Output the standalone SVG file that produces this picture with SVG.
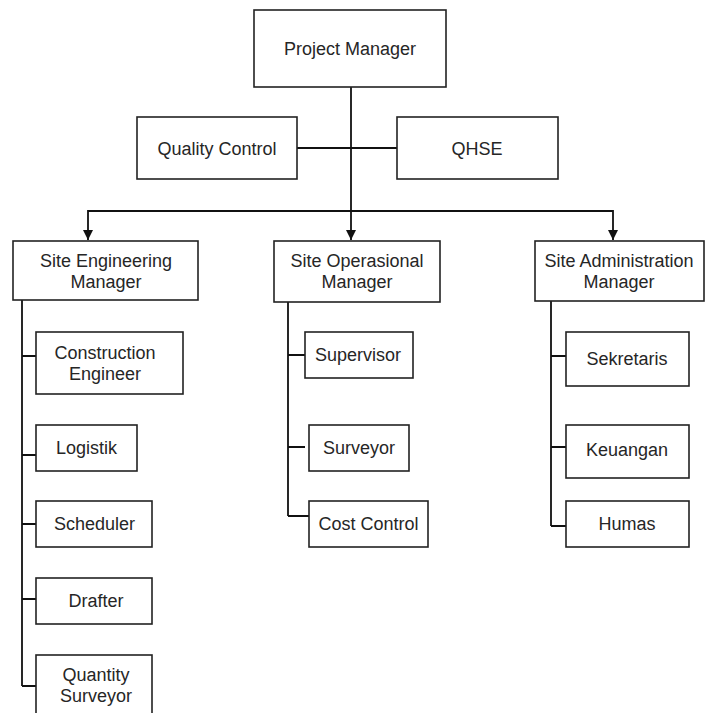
<svg xmlns="http://www.w3.org/2000/svg" width="708" height="713" viewBox="0 0 708 713">
  <defs>
    <marker id="arrow" viewBox="0 0 10 10" refX="10" refY="5" markerWidth="10" markerHeight="10" markerUnits="userSpaceOnUse" orient="auto">
      <path d="M0,0 L10,5 L0,10 Z" fill="#111"/>
    </marker>
    <style>
      .box { fill: #ffffff; stroke: #222; stroke-width: 1.6; }
      .lbl { font-family: "Liberation Sans", Arial, Helvetica, sans-serif; font-size: 18px; fill: #262626; text-anchor: middle; }
      .wire { fill: none; stroke: #111; stroke-width: 1.8; }
    </style>
  </defs>
  <rect width="708" height="713" fill="#ffffff"/>

  <!-- connectors -->
  <g id="connectors">
    <path class="wire" d="M351,87 V240" marker-end="url(#arrow)"/>
    <path class="wire" d="M351,211 H88 V240" marker-end="url(#arrow)"/>
    <path class="wire" d="M351,211 H613 V240" marker-end="url(#arrow)"/>
    <path class="wire" d="M297,148 H397"/>
    <!-- engineering branch -->
    <path class="wire" d="M22,300 V686 M22,356 H36 M22,455 H36 M22,524 H36 M22,599 H36 M22,686 H36"/>
    <!-- operational branch -->
    <path class="wire" d="M288,302 V516 M288,355 H305 M288,447 H305 M288,516 H309"/>
    <!-- administration branch -->
    <path class="wire" d="M551,301 V526 M551,356 H566 M551,447 H566 M551,526 H566"/>
  </g>

  <g id="project-manager">
    <rect class="box" x="254" y="10" width="192" height="77"/>
    <text class="lbl" x="350" y="55">Project Manager</text>
  </g>
  <g id="quality-control">
    <rect class="box" x="137" y="117" width="160" height="62"/>
    <text class="lbl" x="217" y="155">Quality Control</text>
  </g>
  <g id="qhse">
    <rect class="box" x="397" y="117" width="161" height="62"/>
    <text class="lbl" x="477" y="155">QHSE</text>
  </g>

  <g id="site-engineering-manager">
    <rect class="box" x="13" y="241" width="185" height="59"/>
    <text class="lbl" x="106" y="267">Site Engineering</text>
    <text class="lbl" x="106" y="288">Manager</text>
  </g>
  <g id="site-operasional-manager">
    <rect class="box" x="274" y="241" width="166" height="61"/>
    <text class="lbl" x="357" y="267">Site Operasional</text>
    <text class="lbl" x="357" y="288">Manager</text>
  </g>
  <g id="site-administration-manager">
    <rect class="box" x="535" y="241" width="169" height="60"/>
    <text class="lbl" x="619" y="267">Site Administration</text>
    <text class="lbl" x="619" y="288">Manager</text>
  </g>

  <g id="construction-engineer">
    <rect class="box" x="36" y="332" width="147" height="62"/>
    <text class="lbl" x="105" y="359">Construction</text>
    <text class="lbl" x="105" y="380">Engineer</text>
  </g>
  <g id="logistik">
    <rect class="box" x="36" y="425" width="101" height="46"/>
    <text class="lbl" x="86.5" y="454">Logistik</text>
  </g>
  <g id="scheduler">
    <rect class="box" x="36" y="501" width="116" height="46"/>
    <text class="lbl" x="94.5" y="530">Scheduler</text>
  </g>
  <g id="drafter">
    <rect class="box" x="36" y="578" width="116" height="46"/>
    <text class="lbl" x="96" y="607">Drafter</text>
  </g>
  <g id="quantity-surveyor">
    <rect class="box" x="36" y="655" width="116" height="66"/>
    <text class="lbl" x="96" y="681">Quantity</text>
    <text class="lbl" x="96" y="702">Surveyor</text>
  </g>

  <g id="supervisor">
    <rect class="box" x="305" y="332" width="108" height="46"/>
    <text class="lbl" x="358" y="361">Supervisor</text>
  </g>
  <g id="surveyor">
    <rect class="box" x="309" y="425" width="100" height="46"/>
    <text class="lbl" x="359" y="454">Surveyor</text>
  </g>
  <g id="cost-control">
    <rect class="box" x="309" y="501" width="119" height="46"/>
    <text class="lbl" x="368.5" y="530">Cost Control</text>
  </g>

  <g id="sekretaris">
    <rect class="box" x="566" y="332" width="123" height="54"/>
    <text class="lbl" x="627" y="365">Sekretaris</text>
  </g>
  <g id="keuangan">
    <rect class="box" x="566" y="425" width="123" height="53"/>
    <text class="lbl" x="627" y="456">Keuangan</text>
  </g>
  <g id="humas">
    <rect class="box" x="566" y="501" width="123" height="46"/>
    <text class="lbl" x="627" y="530">Humas</text>
  </g>
</svg>
